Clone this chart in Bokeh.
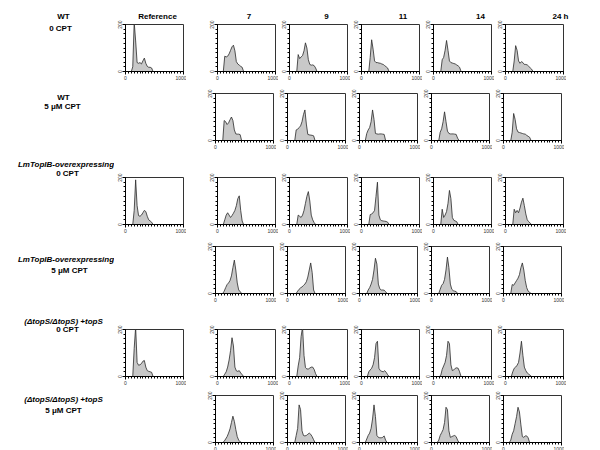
from bokeh.plotting import figure
from bokeh.layouts import row, column
from bokeh.models import Range1d, FixedTicker, Spacer, ColumnDataSource
from bokeh.core.properties import value
from bokeh.embed import file_html
from bokeh.resources import INLINE

# ---------------- data ----------------
channels = [100, 125, 150, 175, 200, 225, 250, 275, 300, 325, 350, 375, 400, 425, 450, 475, 500]

col_headers = ["Reference", "7", "9", "11", "14", "24 h"]
x_ticks = [0, 1000]
y_ticks = [0, 200]

# WT, 0 CPT
wt0_ref = [0, 20, 210, 130, 38, 35, 38, 32, 45, 57, 35, 22, 18, 18, 15, 0, 0]
wt0_h7 = [0, 65, 62, 65, 75, 90, 105, 112, 88, 42, 32, 27, 22, 18, 0, 0, 0]
wt0_h9 = [0, 0, 72, 55, 62, 68, 88, 122, 100, 50, 30, 27, 28, 25, 15, 0, 0]
wt0_h11 = [0, 0, 60, 135, 95, 45, 38, 38, 36, 35, 32, 30, 25, 20, 15, 0, 0]
wt0_h14 = [0, 0, 50, 60, 90, 132, 90, 45, 38, 36, 34, 32, 28, 24, 18, 0, 0]
wt0_h24 = [0, 0, 45, 110, 90, 45, 35, 42, 38, 30, 30, 28, 22, 16, 10, 0, 0]
# WT, 5 uM CPT
wt5_h7 = [0, 0, 85, 80, 68, 75, 88, 100, 85, 45, 28, 27, 27, 25, 0, 0, 0]
wt5_h9 = [0, 0, 45, 48, 55, 62, 80, 110, 130, 70, 26, 24, 23, 22, 20, 0, 0]
wt5_h11 = [0, 30, 45, 55, 80, 130, 90, 30, 28, 27, 28, 28, 27, 26, 0, 0, 0]
wt5_h14 = [0, 0, 35, 50, 80, 122, 80, 40, 30, 28, 28, 28, 27, 26, 10, 0, 0]
wt5_h24 = [0, 0, 35, 115, 90, 50, 36, 34, 32, 30, 28, 27, 22, 18, 14, 0, 0]
# LmTopIB-overexpressing, 0 CPT
oe0_ref = [0, 0, 60, 190, 80, 38, 35, 40, 50, 60, 55, 35, 20, 15, 10, 0, 0]
oe0_h7 = [0, 20, 40, 50, 40, 30, 38, 48, 60, 80, 110, 122, 60, 15, 0, 0, 0]
oe0_h9 = [0, 0, 40, 35, 30, 40, 60, 90, 120, 140, 100, 40, 20, 8, 0, 0, 0]
oe0_h11 = [0, 0, 42, 45, 50, 60, 120, 180, 40, 20, 16, 15, 14, 13, 10, 0, 0]
oe0_h14 = [0, 0, 65, 30, 40, 55, 90, 145, 110, 30, 18, 15, 12, 0, 0, 0, 0]
oe0_h24 = [0, 0, 65, 50, 60, 50, 70, 95, 112, 80, 45, 20, 12, 6, 0, 0, 0]
# LmTopIB-overexpressing, 5 uM CPT
oe5_h7 = [0, 0, 10, 25, 38, 45, 55, 75, 110, 142, 100, 45, 15, 8, 0, 0, 0]
oe5_h9 = [0, 0, 0, 10, 18, 24, 28, 34, 40, 50, 70, 100, 130, 90, 15, 0, 0]
oe5_h11 = [0, 0, 15, 25, 40, 60, 100, 150, 125, 40, 20, 15, 15, 14, 8, 0, 0]
oe5_h14 = [0, 0, 18, 35, 42, 60, 100, 155, 110, 40, 18, 12, 10, 8, 0, 0, 0]
oe5_h24 = [0, 0, 38, 35, 45, 55, 65, 80, 110, 130, 100, 55, 25, 10, 5, 0, 0]
# (dtopS/dtopS)+topS, 0 CPT
ts0_ref = [0, 0, 120, 210, 60, 48, 50, 55, 65, 68, 40, 25, 22, 20, 18, 0, 0]
ts0_h7 = [0, 10, 20, 40, 70, 110, 165, 130, 40, 24, 22, 25, 15, 8, 0, 0, 0]
ts0_h9 = [0, 0, 45, 80, 170, 210, 90, 38, 32, 32, 36, 40, 40, 30, 12, 0, 0]
ts0_h11 = [0, 20, 28, 35, 50, 80, 140, 150, 35, 25, 22, 20, 25, 18, 8, 0, 0]
ts0_h14 = [0, 5, 30, 45, 60, 90, 150, 140, 50, 25, 28, 35, 37, 35, 20, 0, 0]
ts0_h24 = [0, 20, 35, 40, 48, 60, 100, 150, 90, 40, 25, 15, 10, 5, 0, 0, 0]
# (dtopS/dtopS)+topS, 5 uM CPT
ts5_h7 = [0, 0, 5, 15, 25, 40, 58, 85, 112, 90, 55, 25, 10, 3, 0, 0, 0]
ts5_h9 = [0, 0, 30, 60, 160, 140, 50, 30, 28, 30, 35, 40, 35, 25, 12, 0, 0]
ts5_h11 = [0, 15, 30, 40, 60, 100, 160, 110, 30, 22, 20, 20, 22, 28, 10, 0, 0]
ts5_h14 = [0, 10, 30, 42, 55, 85, 150, 140, 50, 22, 25, 28, 30, 25, 10, 0, 0]
ts5_h24 = [0, 10, 35, 50, 80, 110, 150, 130, 75, 25, 22, 28, 28, 20, 0, 0, 0]

rows_data = [
    [wt0_ref, wt0_h7, wt0_h9, wt0_h11, wt0_h14, wt0_h24],
    [None, wt5_h7, wt5_h9, wt5_h11, wt5_h14, wt5_h24],
    [oe0_ref, oe0_h7, oe0_h9, oe0_h11, oe0_h14, oe0_h24],
    [None, oe5_h7, oe5_h9, oe5_h11, oe5_h14, oe5_h24],
    [ts0_ref, ts0_h7, ts0_h9, ts0_h11, ts0_h14, ts0_h24],
    [None, ts5_h7, ts5_h9, ts5_h11, ts5_h14, ts5_h24],
]

row_label_lines = [
    ("WT", "0 CPT"),
    ("WT", "5 \u03bcM CPT"),
    ("LmTopIB-overexpressing", "0 CPT"),
    ("LmTopIB-overexpressing", "5 \u03bcM CPT"),
    ("(\u0394topS/\u0394topS) +topS", "0 CPT"),
    ("(\u0394topS/\u0394topS) +topS", "5 \u03bcM CPT"),
]
row_label_italic = [False, False, True, True, True, True]

# ---------------- layout constants (screen px, page origin at 0,0) ----------------
FONT = value("Liberation Sans")
FW, FH = 58, 47
LEFT_W = 114           # label column width
TOP = 0
BOTTOM = 447
HEAD_H = 20
label_pos = [  # (x1, y1, x2, y2) for first / second line
    (63, 16, 60, 27.5),
    (63, 96.5, 62, 106),
    (65.5, 164, 67, 172.5),
    (65.5, 259, 69, 269.5),
    (63, 320.5, 67, 329),
    (63, 399, 63, 410),
]
header_x = [157, 248.5, 326, 402.5, 480, 560]
header_y = 16
row_gaps = [7, 22, 7, 21, 4]


def style_axes(p):
    p.xaxis.ticker = FixedTicker(ticks=x_ticks, minor_ticks=list(range(0, 1001, 50)))
    p.yaxis.ticker = FixedTicker(ticks=y_ticks, minor_ticks=list(range(0, 201, 20)))
    for ax in (p.xaxis[0], p.yaxis[0]):
        ax.axis_line_color = "black"
        ax.axis_line_width = 1
        ax.major_tick_line_color = "black"
        ax.minor_tick_line_color = "black"
        ax.major_tick_in = 0
        ax.major_tick_out = 3
        ax.minor_tick_in = 0
        ax.minor_tick_out = 2
        ax.major_label_text_font = "Liberation Sans"
        ax.major_label_text_font_size = "5px"
        ax.major_label_text_color = "#333333"
        ax.major_label_standoff = 1
    p.yaxis.major_label_orientation = "vertical"


def make_panel(counts, left=11):
    p = figure(frame_width=FW, frame_height=FH,
               x_range=Range1d(0, 1000), y_range=Range1d(0, 200),
               min_border_left=left, min_border_right=3,
               min_border_top=4, min_border_bottom=10,
               toolbar_location=None, tools="", output_backend="svg")
    p.grid.visible = False
    p.outline_line_color = "#333333"
    p.outline_line_width = 1
    p.background_fill_color = "white"
    src = ColumnDataSource(dict(x=channels, y=counts))
    p.varea(x="x", y1=0, y2="y", source=src, fill_color="#c8c8c8")
    p.line(x="x", y="y", source=src, line_color="#2a2a2a", line_width=0.8)
    style_axes(p)
    return p


# label column
lab = figure(frame_width=LEFT_W, frame_height=BOTTOM - TOP,
             x_range=Range1d(TOP, TOP + LEFT_W), y_range=Range1d(BOTTOM, TOP),
             min_border=0, toolbar_location=None, tools="",
             x_axis_location=None, y_axis_location=None, output_backend="svg")
lab.grid.visible = False
lab.outline_line_color = None
for i, (l1, l2) in enumerate(row_label_lines):
    x1, y1, x2, y2 = label_pos[i]
    lab.text(x=[x1], y=[y1], text=[l1], text_font=FONT, text_font_size="8px",
             text_font_style="bold italic" if row_label_italic[i] else "bold",
             text_align="center", text_baseline="middle", text_color="black")
    lab.text(x=[x2], y=[y2], text=[l2], text_font=FONT, text_font_size="8px",
             text_font_style="bold", text_align="center", text_baseline="middle",
             text_color="black")

# header strip
HX0 = LEFT_W
HW = 466
head = figure(frame_width=HW, frame_height=HEAD_H,
              x_range=Range1d(HX0, HX0 + HW), y_range=Range1d(HEAD_H, 0),
              min_border=0, toolbar_location=None, tools="",
              x_axis_location=None, y_axis_location=None, output_backend="svg")
head.grid.visible = False
head.outline_line_color = None
head.text(x=header_x, y=[header_y] * len(header_x), text=col_headers,
          text_font=FONT, text_font_size="8px", text_font_style="bold",
          text_align="center", text_baseline="middle", text_color="black")

panel_items = [head]
for r, data in enumerate(rows_data):
    items = []
    if data[0] is None:
        items.append(Spacer(width=9 + FW + 3, height=4 + FH + 10))
    else:
        items.append(make_panel(data[0], left=9))
    items.append(Spacer(width=20, height=4 + FH + 10))
    for c in data[1:]:
        items.append(make_panel(c))
    panel_items.append(row(*items, spacing=0))
    if r < len(row_gaps):
        panel_items.append(Spacer(height=row_gaps[r], width=10))

layout = row(lab, column(*panel_items, spacing=0), spacing=0)

open("out.html", "w").write(file_html(layout, INLINE))
